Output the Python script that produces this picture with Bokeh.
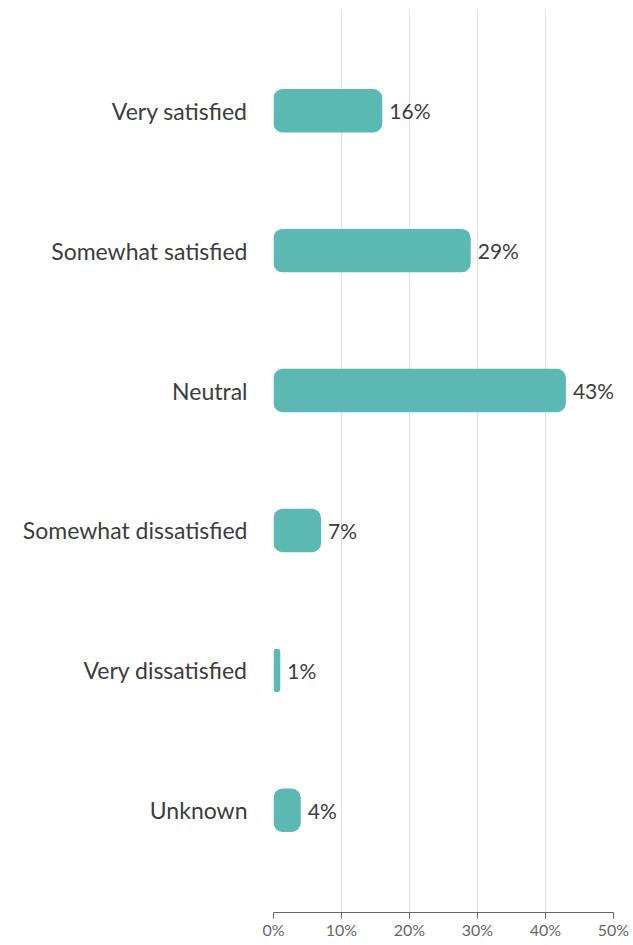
from bokeh.plotting import figure
from bokeh.models import FactorRange, Range1d, ColumnDataSource, FixedTicker
from bokeh.core.properties import value
from bokeh.embed import file_html
from bokeh.resources import INLINE

categories = ["Very satisfied", "Somewhat satisfied", "Neutral",
              "Somewhat dissatisfied", "Very dissatisfied", "Unknown"]
percents = [16, 29, 43, 7, 1, 4]
tick_values = [0, 10, 20, 30, 40, 50]

FONT = "Lato"

src = ColumnDataSource(dict(
    cat=categories,
    pct=percents,
    label=[f"{v}%" for v in percents],
))

yr = FactorRange(factors=list(reversed(categories)), range_padding=0.077)

p = figure(y_range=yr, x_range=Range1d(0, 50),
           frame_width=340, frame_height=904,
           min_border_left=273, min_border_right=20, min_border_top=8, min_border_bottom=0,
           output_backend="svg", toolbar_location=None)

p.hbar(y="cat", left=0, right="pct", height=0.31, source=src,
       fill_color="#5BB8B3", line_color=None, border_radius=9)

p.text(x="pct", y="cat", text="label", source=src,
       x_offset=7, text_align="left", text_baseline="middle",
       text_font=value(FONT), text_font_size="21px", text_color="#3c3c3c")

p.outline_line_color = None
p.ygrid.grid_line_color = None
p.xgrid.grid_line_color = "#E2E2E2"
p.xgrid.ticker = FixedTicker(ticks=tick_values)

p.xaxis.ticker = FixedTicker(ticks=tick_values)
p.xaxis.major_label_overrides = {v: f"{v}%" for v in tick_values}
p.xaxis.axis_line_color = "#666666"
p.xaxis.major_tick_line_color = "#666666"
p.xaxis.major_tick_out = 6
p.xaxis.major_tick_in = 0
p.xaxis.minor_tick_line_color = None
p.xaxis.major_label_text_font = FONT
p.xaxis.major_label_text_font_size = "16px"
p.xaxis.major_label_text_color = "#666666"
p.xaxis.major_label_standoff = 1

p.yaxis.axis_line_color = None
p.yaxis.major_tick_line_color = None
p.yaxis.minor_tick_line_color = None
p.yaxis.major_label_text_font = FONT
p.yaxis.major_label_text_font_size = "23px"
p.yaxis.major_label_text_color = "#3c3c3c"
p.yaxis.major_label_standoff = 20

open("out.html", "w").write(file_html(p, INLINE))
